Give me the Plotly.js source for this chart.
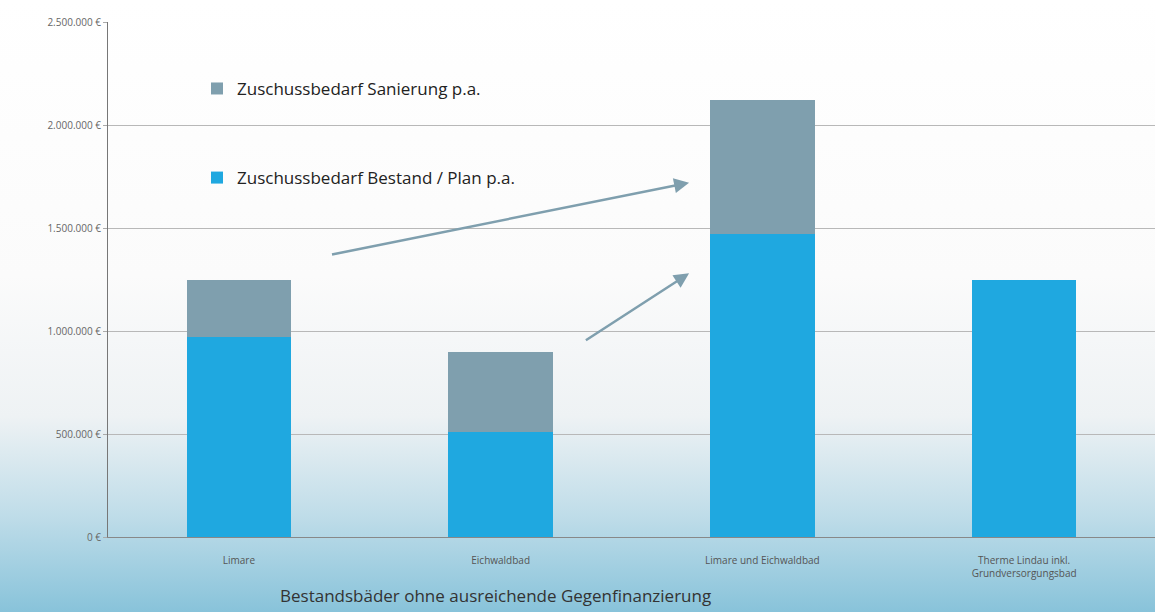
<!DOCTYPE html>
<html>
<head>
<meta charset="utf-8">
<script src="https://cdn.plot.ly/plotly-3.0.1.min.js"></script>
<style>
html,body{margin:0;padding:0;}
body{width:1155px;height:612px;background:linear-gradient(to bottom,#ffffff 0%,#fbfbfb 45%,#eef2f4 68%,#c0dde9 84%,#88c3da 100%);}
#chart{width:1155px;height:612px;}
</style>
</head>
<body>
<div id="chart"></div>
<script>
const categories = ["Limare", "Eichwaldbad", "Limare und Eichwaldbad", "Therme Lindau inkl.<br>Grundversorgungsbad"];
const bestand = [970000, 510000, 1470000, 1250000];
const sanierung = [280000, 390000, 650000, 0];
const yTicks = [0, 500000, 1000000, 1500000, 2000000, 2500000];
const yTickText = ["0 €", "500.000 €", "1.000.000 €", "1.500.000 €", "2.000.000 €", "2.500.000 €"];
const xTitle = "Bestandsbäder ohne ausreichende Gegenfinanzierung";
const nameBestand = "Zuschussbedarf Bestand / Plan p.a.";
const nameSanierung = "Zuschussbedarf Sanierung p.a.";

const data = [
  {type:'bar', x:categories, y:bestand, name:nameBestand, legendgroup:'b', legendrank:2,
   marker:{color:'#1fa8e0'}, hoverinfo:'y'},
  {type:'bar', x:categories, y:sanierung, name:nameSanierung, legendgroup:'s', legendrank:1,
   marker:{color:'#7f9fae'}, hoverinfo:'y'}
];

const layout = {
  width:1155, height:612,
  margin:{l:108, r:0, t:22, b:75},
  paper_bgcolor:'rgba(0,0,0,0)',
  plot_bgcolor:'rgba(0,0,0,0)',
  barmode:'stack',
  bargap:0.6,
  font:{family:'Open Sans, sans-serif', color:'#333'},
  xaxis:{
    tickfont:{size:10, color:'#555'},
    showline:true, linecolor:'#888', linewidth:1,
    ticks:'outside', ticklen:14, tickcolor:'rgba(0,0,0,0)', showgrid:false
  },
  yaxis:{
    range:[0, 2500000],
    tickvals:yTicks, ticktext:yTickText,
    tickfont:{size:10, color:'#666'},
    showline:true, linecolor:'#777', linewidth:1,
    gridcolor:'#b8b8b8', gridwidth:1,
    zeroline:false,
    ticks:'outside', ticklen:4, tickcolor:'#aaa'
  },
  showlegend:true,
  legend:{
    x:0.085, y:0.905, xanchor:'left', yanchor:'top',
    traceorder:'grouped', tracegroupgap:64,
    font:{size:17, color:'#222'},
    bgcolor:'rgba(0,0,0,0)'
  },
  annotations:[
    {xref:'paper', yref:'paper', x:0.37, y:-0.113, xanchor:'center', yanchor:'middle',
     text:xTitle, showarrow:false, font:{size:17, color:'#333'}},
    {xref:'x', yref:'y', axref:'x', ayref:'y', x:1.72, y:1720000, ax:0.35, ay:1370000,
     showarrow:true, arrowhead:2, arrowsize:1.2, arrowwidth:2.5, arrowcolor:'#7f9fae', text:''},
    {xref:'x', yref:'y', axref:'x', ayref:'y', x:1.72, y:1280000, ax:1.32, ay:950000,
     showarrow:true, arrowhead:2, arrowsize:1.2, arrowwidth:2.5, arrowcolor:'#7f9fae', text:''}
  ]
};

Plotly.newPlot('chart', data, layout, {displayModeBar:false, responsive:false});
</script>
</body>
</html>
